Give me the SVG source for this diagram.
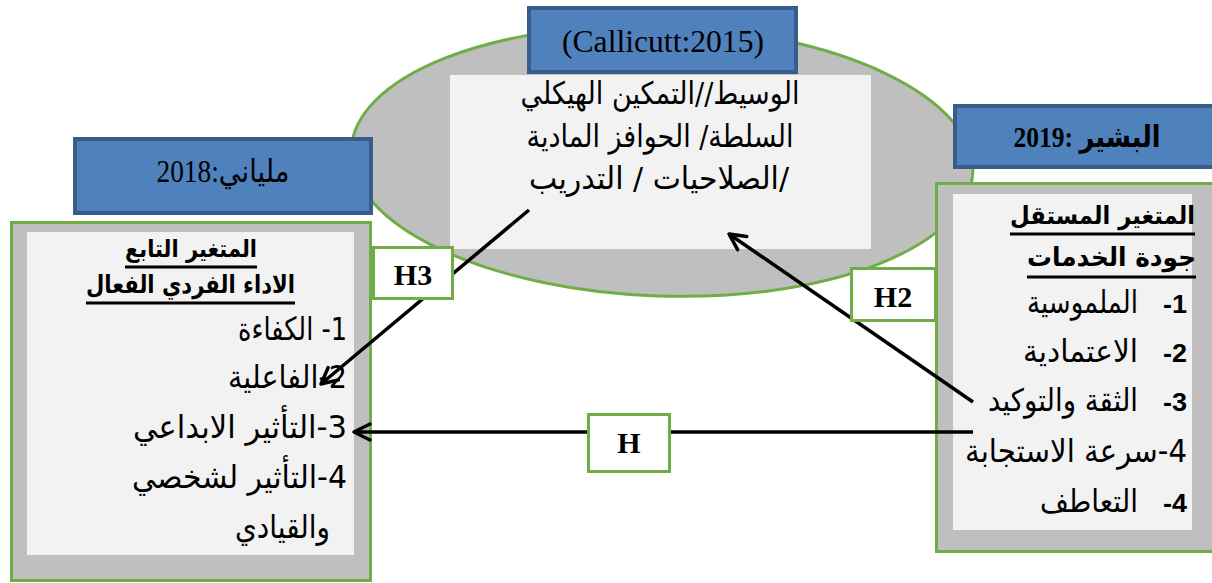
<svg xmlns="http://www.w3.org/2000/svg" width="1212" height="583" viewBox="0 0 1212 583">
<defs>
<style>
.blue{fill:#4f81bd;stroke:#385d8a;stroke-width:4}
.grey{fill:#bfbfbf;stroke:#70ad47;stroke-width:3}
.light{fill:#f2f2f2}
.hbox{fill:#ffffff;stroke:#70ad47;stroke-width:3}
.ar{font-family:"DejaVu Sans","Liberation Sans",sans-serif;fill:#000;direction:rtl;unicode-bidi:embed;text-anchor:middle}
.arb{font-weight:bold}
.ser{font-family:"Liberation Serif","DejaVu Sans",serif;fill:#000;text-anchor:middle}
.num{font-family:"Liberation Sans","DejaVu Sans",sans-serif;font-weight:bold;font-size:25px;fill:#000;text-anchor:middle}
.hl{font-family:"Liberation Serif","DejaVu Serif",serif;font-weight:bold;font-size:30px;text-anchor:middle;fill:#000}
.conn{stroke:#000;stroke-width:3.5;fill:none}
.ul{stroke:#000;stroke-width:3}
</style>
<marker id="arr" viewBox="0 0 22 22" refX="19" refY="11" markerWidth="22" markerHeight="22" markerUnits="userSpaceOnUse" orient="auto">
<path d="M3,3 L19,11 L3,19" fill="none" stroke="#000" stroke-width="3.5" stroke-linecap="round" stroke-linejoin="round"/>
</marker>
</defs>
<rect width="1212" height="583" fill="#ffffff"/>

<g id="mediator">
<ellipse cx="662" cy="161" rx="311" ry="135" transform="rotate(2 662 161)" fill="#bfbfbf" stroke="#70ad47" stroke-width="3"/>
<rect x="450" y="75" width="421" height="174" class="light"/>
<rect x="529" y="8" width="267" height="64" class="blue"/>
<text class="ser" x="663" y="52" font-size="32" textLength="202" lengthAdjust="spacingAndGlyphs">(Callicutt:2015)</text>
<text class="ar" x="660" y="104" font-size="31" textLength="279" lengthAdjust="spacingAndGlyphs">الوسيط//التمكين الهيكلي</text>
<text class="ar" x="660" y="147" font-size="31" textLength="267" lengthAdjust="spacingAndGlyphs">السلطة/ الحوافز المادية</text>
<text class="ar" x="659" y="189" font-size="31" textLength="260" lengthAdjust="spacingAndGlyphs">/الصلاحيات / التدريب</text>
</g>

<g id="dependent">
<rect x="75" y="139" width="296" height="74" class="blue"/>
<text class="ser" x="223" y="182" font-size="31" style="direction:rtl;unicode-bidi:embed" textLength="133" lengthAdjust="spacingAndGlyphs">ملياني:2018</text>
<rect x="11.5" y="222.5" width="359" height="358" class="grey"/>
<rect x="27" y="232" width="327" height="323" class="light"/>
<text class="ar arb" x="191" y="257" font-size="24" textLength="132" lengthAdjust="spacingAndGlyphs">المتغير التابع</text>
<line class="ul" x1="125" y1="267" x2="257" y2="267"/>
<text class="ar arb" x="190.5" y="293" font-size="25" textLength="209" lengthAdjust="spacingAndGlyphs">الاداء الفردي الفعال</text>
<line class="ul" x1="86" y1="303" x2="295" y2="303"/>
<text class="ar" x="292.5" y="340" font-size="32" textLength="109" lengthAdjust="spacingAndGlyphs">1- الكفاءة</text>
<text class="ar" x="287.5" y="388" font-size="32" textLength="119" lengthAdjust="spacingAndGlyphs">2-الفاعلية</text>
<text class="ar" x="240" y="438" font-size="32" textLength="214" lengthAdjust="spacingAndGlyphs">3-التأثير الابداعي</text>
<text class="ar" x="239.5" y="488" font-size="32" textLength="215" lengthAdjust="spacingAndGlyphs">4-التأثير لشخصي</text>
<text class="ar" x="282.5" y="538" font-size="32" textLength="95" lengthAdjust="spacingAndGlyphs">والقيادي</text>
</g>

<g id="independent">
<rect x="955" y="106" width="262" height="61" class="blue"/>
<text class="ser" x="1087" y="147" font-size="30" font-weight="bold" style="direction:rtl;unicode-bidi:embed" textLength="147" lengthAdjust="spacingAndGlyphs">البشير :2019</text>
<rect x="936.5" y="183.5" width="290" height="368" class="grey"/>
<rect x="953" y="194" width="239" height="336" class="light"/>
<text class="ar arb" x="1102.5" y="224" font-size="25" textLength="185" lengthAdjust="spacingAndGlyphs">المتغير المستقل</text>
<line class="ul" x1="1010" y1="234" x2="1195" y2="234"/>
<text class="ar arb" x="1111.5" y="266" font-size="26" textLength="169" lengthAdjust="spacingAndGlyphs">جودة الخدمات</text>
<line class="ul" x1="1027" y1="277" x2="1196" y2="277"/>
<text class="num" x="1175" y="313" textLength="24" lengthAdjust="spacingAndGlyphs">-1</text>
<text class="ar" x="1082.5" y="313" font-size="31" textLength="111" lengthAdjust="spacingAndGlyphs">الملموسية</text>
<text class="num" x="1175" y="362" textLength="24" lengthAdjust="spacingAndGlyphs">-2</text>
<text class="ar" x="1080.5" y="362" font-size="31" textLength="115" lengthAdjust="spacingAndGlyphs">الاعتمادية</text>
<text class="num" x="1175" y="411" textLength="24" lengthAdjust="spacingAndGlyphs">-3</text>
<text class="ar" x="1063" y="411" font-size="31" textLength="150" lengthAdjust="spacingAndGlyphs">الثقة والتوكيد</text>
<text class="ar" x="1076" y="462" font-size="32" textLength="222" lengthAdjust="spacingAndGlyphs">4-سرعة الاستجابة</text>
<text class="num" x="1175" y="512" textLength="24" lengthAdjust="spacingAndGlyphs">-4</text>
<text class="ar" x="1089" y="512" font-size="31" textLength="98" lengthAdjust="spacingAndGlyphs">التعاطف</text>
</g>

<g id="connectors">
<line class="conn" x1="973" y1="432" x2="354" y2="432" marker-end="url(#arr)"/>
<line class="conn" x1="973" y1="402" x2="729" y2="234" marker-end="url(#arr)"/>
<line class="conn" x1="529" y1="210" x2="321" y2="384" marker-end="url(#arr)"/>
</g>

<g id="label-H3">
<rect x="373.5" y="247.5" width="79" height="51" class="hbox"/>
<text class="hl" x="413" y="285">H3</text>
</g>
<g id="label-H2">
<rect x="851.5" y="268.5" width="84" height="52" class="hbox"/>
<text class="hl" x="893" y="307">H2</text>
</g>
<g id="label-H">
<rect x="588.5" y="414.5" width="81" height="57" class="hbox"/>
<text class="hl" x="629" y="453">H</text>
</g>
</svg>
